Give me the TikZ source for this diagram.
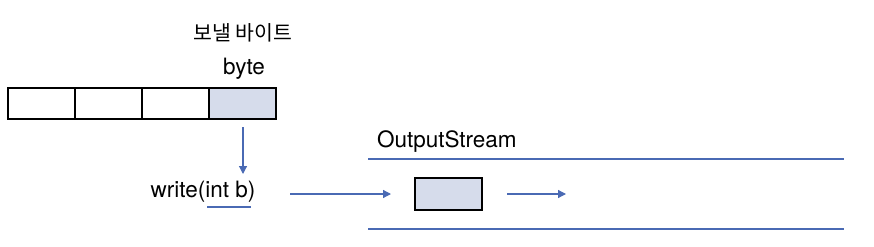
\documentclass[tikz,border=0pt]{standalone}
\usepackage{fontspec}
\setmainfont{TeX Gyre Heros}
\newfontfamily\krfont{Noto Sans CJK KR}
\usetikzlibrary{arrows.meta}
\definecolor{lineblue}{HTML}{4A6AB4}
\definecolor{cellfill}{HTML}{D6DCEB}
\tikzset{
  cell/.style={draw=black, line width=1.2pt, minimum width=67pt, minimum height=31pt, inner sep=0pt, outer sep=0pt},
  flow/.style={draw=lineblue, line width=1.2pt, -{Triangle[length=8pt,width=8pt]}},
  rail/.style={draw=lineblue, line width=1.5pt},
  lbl/.style={inner sep=0pt, font=\fontsize{22.5}{26}\selectfont}
}
\begin{document}
\begin{tikzpicture}[x=1pt,y=-1pt]
\useasboundingbox (0,0) rectangle (874,246);
\node[cell] (c1) at (41.5,103.5) {};
\node[cell] (c2) at (108.5,103.5) {};
\node[cell] (c3) at (175.5,103.5) {};
\node[cell, fill=cellfill] (c4) at (242.5,103.5) {};
\node[inner sep=0pt, font=\krfont\fontsize{20.5}{24}\selectfont] (kr) at (243,33) {보낼 바이트};
\node[lbl] (byte) at (244,69) {byte};
\node[lbl] (write) at (203,192) {write(int b)};
\coordinate (u1) at (207,207);
\coordinate (u2) at (251,207);
\draw[rail, line width=1.2pt] (u1) -- (u2);
\coordinate (a1) at (243,127);
\coordinate (a2) at (243,174);
\draw[flow] (a1) -- (a2);
\node[lbl, anchor=west] (os) at (377,142) {OutputStream};
\coordinate (t1) at (368,159);
\coordinate (t2) at (844,159);
\coordinate (b1) at (368,229);
\coordinate (b2) at (844,229);
\draw[rail] (t1) -- (t2);
\draw[rail] (b1) -- (b2);
\node[draw=black, line width=1.2pt, fill=cellfill, minimum width=67pt, minimum height=32pt, inner sep=0pt] (buf) at (448.5,194) {};
\coordinate (i1) at (290,194);
\coordinate (i2) at (391,194);
\draw[flow] (i1) -- (i2);
\coordinate (o1) at (507,194);
\coordinate (o2) at (566,194);
\draw[flow] (o1) -- (o2);
\end{tikzpicture}
\end{document}
